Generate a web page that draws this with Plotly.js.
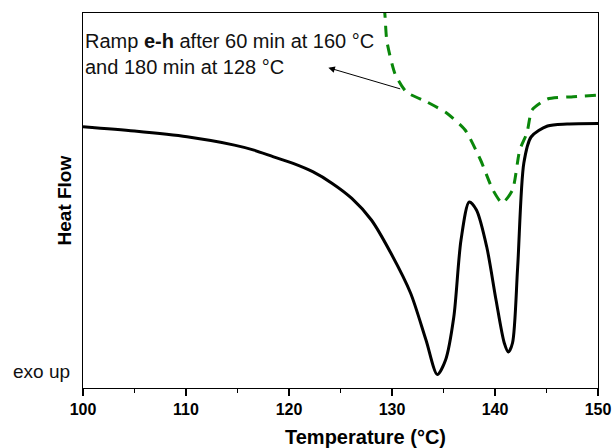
<!DOCTYPE html>
<html>
<head>
<meta charset="utf-8">
<script src="https://cdn.plot.ly/plotly-3.0.1.min.js"></script>
<style>html,body{margin:0;padding:0;background:#fff;}#chart{width:613px;height:448px;}</style>
</head>
<body>
<div id="chart"></div>
<script>
// Black curve (solid): temperature (°C) and heat flow (arbitrary units)
const tempSolid = [100, 105, 110.1, 114.7, 116.6, 118.5, 120.4, 122.3, 124.2, 126.1, 128.0, 129.9, 131.8, 133.3, 134.4, 135.2, 136.0, 136.7, 137.5, 138.2, 139.2, 140.1, 140.9, 141.3, 141.7, 142.2, 142.8, 143.5, 145.1, 147.0, 150];
const flowSolid = [261.2, 256.9, 251.2, 242.9, 237.9, 231.2, 224.6, 216.3, 204.6, 189.6, 168, 134.7, 95, 48, 13.5, 28, 71, 148, 186, 178, 141, 88, 45, 36, 45, 121, 225, 251, 262, 264, 264.5];

// Green curve (dashed): after 60 min at 160 °C and 180 min at 128 °C
const tempDashed = [129.0, 129.3, 129.5, 130.3, 131.4, 133.4, 135.3, 137.1, 138.6, 139.8, 140.7, 141.7, 142.4, 143.1, 143.6, 145.1, 147.6, 150];
const flowDashed = [400, 375, 347, 314, 296, 286, 275, 258, 228, 198, 185, 198, 238, 255, 278, 289, 291.3, 293];

// Axis tick values
const xTicks = [100, 110, 120, 130, 140, 150];
const xTickLabels = ['100', '110', '120', '130', '140', '150'];

const FONT = 'Liberation Sans, Arial, Helvetica, sans-serif';

const traces = [
  {
    x: tempSolid, y: flowSolid, type: 'scatter', mode: 'lines',
    line: {color: '#000000', width: 3, shape: 'spline', smoothing: 0.8},
    hoverinfo: 'skip', showlegend: false
  },
  {
    x: tempDashed, y: flowDashed, type: 'scatter', mode: 'lines',
    line: {color: '#0a870a', width: 3, dash: '11px,8px', shape: 'spline', smoothing: 0.6},
    hoverinfo: 'skip', showlegend: false
  }
];

const layout = {
  width: 613, height: 448,
  margin: {l: 83, r: 15, t: 13, b: 60},
  paper_bgcolor: '#ffffff', plot_bgcolor: '#ffffff',
  showlegend: false,
  font: {family: FONT, color: '#000'},
  xaxis: {
    range: [100, 150],
    tickvals: xTicks, ticktext: xTickLabels,
    ticks: 'outside', ticklen: 7, tickwidth: 1.3, tickcolor: '#000',
    tickfont: {family: FONT, size: 16, color: '#000', weight: 'bold'},
    showline: true, linecolor: '#000', linewidth: 1.2, mirror: true,
    showgrid: false, zeroline: false,
    minor: {dtick: 5, tick0: 100, ticks: 'outside', ticklen: 4, tickwidth: 1.3, tickcolor: '#000', showgrid: false}
  },
  yaxis: {
    range: [0, 375],
    showticklabels: false, ticks: '',
    showline: true, linecolor: '#000', linewidth: 1.2, mirror: true,
    showgrid: false, zeroline: false
  },
  annotations: [
    {
      xref: 'x', yref: 'y', x: 100, y: 334.2, xanchor: 'left', yanchor: 'middle', align: 'left',
      text: 'Ramp <b>e-h</b> after 60 min at 160 °C<br>and 180 min at 128 °C',
      showarrow: false, font: {family: FONT, size: 20, color: '#111'}
    },
    {
      xref: 'x', yref: 'y', x: 123.82, y: 320.3, axref: 'x', ayref: 'y', ax: 130.94, ay: 298.7,
      text: '', showarrow: true, arrowhead: 2, arrowsize: 1.3, arrowwidth: 1, arrowcolor: '#000', standoff: 0
    },
    {
      xref: 'paper', yref: 'y', x: -0.0802, y: 17, xanchor: 'center', yanchor: 'middle',
      text: 'exo up', showarrow: false, font: {family: FONT, size: 19, color: '#111'}
    },
    {
      xref: 'paper', yref: 'paper', x: -0.035, y: 0.5, xanchor: 'center', yanchor: 'middle', textangle: -90,
      text: '<b>Heat Flow</b>', showarrow: false, font: {family: FONT, size: 19, color: '#000'}
    },
    {
      xref: 'paper', yref: 'paper', x: 0.5476, y: -0.1307, xanchor: 'center', yanchor: 'middle',
      text: '<b>Temperature (°C)</b>', showarrow: false, font: {family: FONT, size: 20, color: '#000'}
    }
  ]
};

Plotly.newPlot('chart', traces, layout, {displayModeBar: false, staticPlot: true});
</script>
</body>
</html>
